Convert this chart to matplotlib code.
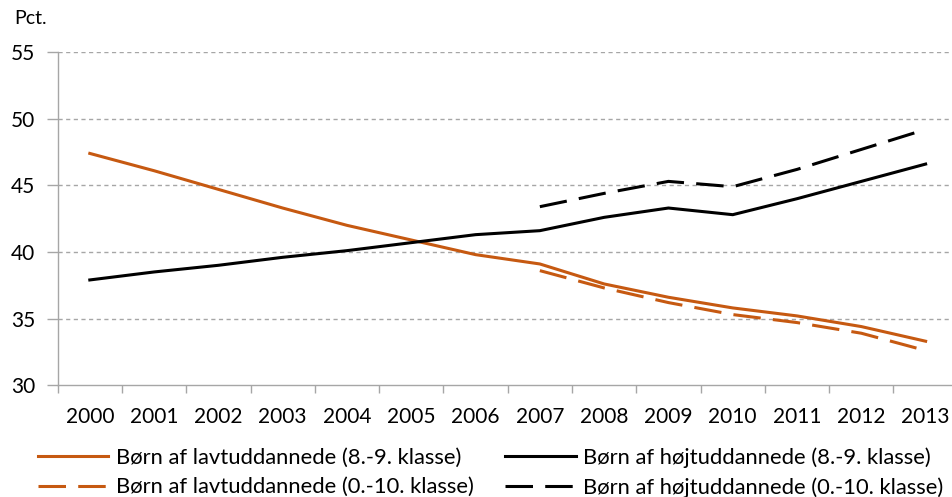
import numpy as np
import matplotlib
matplotlib.use('Agg')
from matplotlib import pyplot as plt

plt.rcParams['font.family'] = ['Lato', 'DejaVu Sans']

years = [str(y) for y in range(2000, 2014)]

# 8.-9. klasse, 2000-2013
lav_89 = [47.4, 46.1, 44.7, 43.3, 42.0, 40.9, 39.8, 39.1, 37.6, 36.6, 35.8, 35.2, 34.4, 33.3]
hoj_89 = [37.9, 38.5, 39.0, 39.6, 40.1, 40.7, 41.3, 41.6, 42.6, 43.3, 42.8, 44.0, 45.3, 46.6]
# 0.-10. klasse, 2007-2013
lav_010 = [38.6, 37.3, 36.2, 35.3, 34.7, 33.9, 32.6]
hoj_010 = [43.4, 44.4, 45.3, 44.9, 46.2, 47.7, 49.2]

ORANGE = '#C65911'
GRAY = '#A6A6A6'

fig = plt.figure(figsize=(9.53, 4.97), dpi=100)
ax = fig.add_axes([0.0605, 0.225, 0.9445, 0.67])

x = np.arange(len(years))
x_late = x[7:]
dash = (9, 4)

l1, = ax.plot(x, lav_89, color=ORANGE, lw=2.2, label='Børn af lavtuddannede (8.-9. klasse)')
l2, = ax.plot(x_late, lav_010, color=ORANGE, lw=2.2, dashes=dash, label='Børn af lavtuddannede (0.-10. klasse)')
l3, = ax.plot(x, hoj_89, color='black', lw=2.2, label='Børn af højtuddannede (8.-9. klasse)')
l4, = ax.plot(x_late, hoj_010, color='black', lw=2.2, dashes=dash, label='Børn af højtuddannede (0.-10. klasse)')

ax.set_xlim(-0.5, 13.5)
ax.set_ylim(30, 55)
ax.set_yticks([30, 35, 40, 45, 50, 55])
ax.set_xticks(x)
ax.set_xticklabels(years, fontsize=15)
ax.set_xticks(np.arange(-0.5, 14, 1), minor=True)
ax.tick_params(axis='x', which='major', length=0, pad=16)
ax.tick_params(axis='x', which='minor', length=6, color=GRAY, width=1)
ax.tick_params(axis='y', length=8, color=GRAY, width=1, labelsize=15, pad=8)

for y in [35, 40, 45, 50, 55]:
    ax.axhline(y, color=GRAY, lw=1, dashes=(3, 2.5), zorder=0)

for side in ['top', 'right']:
    ax.spines[side].set_visible(False)
for side in ['left', 'bottom']:
    ax.spines[side].set_color(GRAY)
    ax.spines[side].set_linewidth(1)

fig.text(0.015, 0.963, 'Pct.', fontsize=14, va='center', ha='left')

fig.legend(handles=[l1, l2, l3, l4], ncol=2, loc='upper left',
           bbox_to_anchor=(0.04, 0.1), frameon=False, fontsize=15.8,
           handlelength=3.2, handletextpad=0.33, columnspacing=1.45,
           labelspacing=0.43, borderpad=0, borderaxespad=0)

fig.savefig('out.png', dpi=100)
